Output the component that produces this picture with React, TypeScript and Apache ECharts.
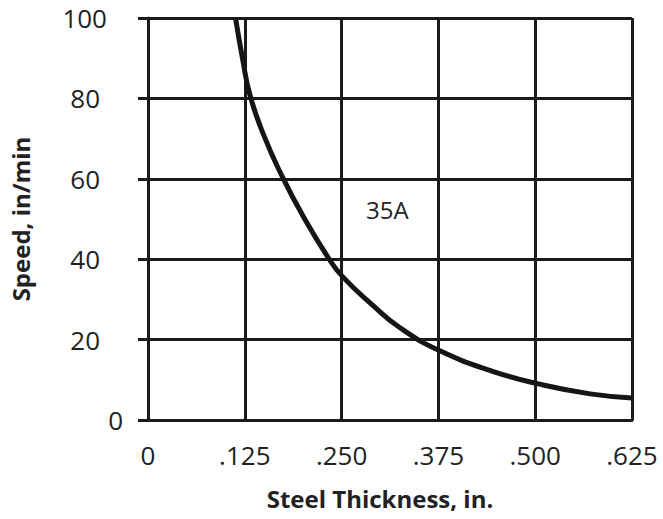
import React, { useEffect, useRef } from "react";
import * as echarts from "echarts";

const thickness = [0.113, 0.122, 0.132, 0.15, 0.173, 0.2, 0.233, 0.2515, 0.29, 0.325, 0.377, 0.447, 0.504, 0.571, 0.625];
const speed = [100, 90, 80.6, 70.6, 60.7, 50.8, 40.3, 35.6, 28.6, 23, 17.2, 12, 9, 6.5, 5.5];
const curveLabel = "35A";
const xTitle = "Steel Thickness, in.";
const yTitle = "Speed, in/min";

export default function App() {
  const ref = useRef<HTMLDivElement>(null);
  useEffect(() => {
    if (!ref.current) return;
    const chart = echarts.init(ref.current, null, { renderer: "svg" });
    const ink = "#1b1b1b";
    chart.setOption({
      animation: false,
      backgroundColor: "#ffffff",
      grid: { left: 145, right: 31, top: 18, bottom: 99, containLabel: false },
      xAxis: {
        type: "value",
        min: 0,
        max: 0.625,
        interval: 0.125,
        name: xTitle,
        nameLocation: "middle",
        nameGap: 66,
        nameTextStyle: { fontFamily: "Open Sans", fontWeight: "bold", fontSize: 24, color: "#222", padding: [0, 20, 0, 0] },
        axisLine: { show: true, lineStyle: { color: ink, width: 3 } },
        axisTick: { show: false },
        splitLine: { show: true, lineStyle: { color: ink, width: 3 } },
        axisLabel: {
          margin: 22,
          fontFamily: "Open Sans",
          fontSize: 26,
          color: "#222",
          formatter: (v: number) => (v === 0 ? "0" : v.toFixed(3).replace(/^0/, "")),
        },
      },
      yAxis: {
        type: "value",
        min: 0,
        max: 100,
        interval: 20,
        name: yTitle,
        nameLocation: "middle",
        nameGap: 116,
        nameRotate: 90,
        nameTextStyle: { fontFamily: "Open Sans", fontWeight: "bold", fontSize: 24, color: "#222" },
        axisLine: { show: true, lineStyle: { color: ink, width: 3 } },
        axisTick: { show: true, length: 10, lineStyle: { color: ink, width: 3 } },
        splitLine: { show: true, lineStyle: { color: ink, width: 3 } },
        axisLabel: {
          margin: 25,
          align: "right",
          fontFamily: "Open Sans",
          fontSize: 26,
          color: "#222",
          formatter: (v: number) => (v === 0 ? "{z|0}" : v === 100 ? "{h|100}" : "{n|" + v + "}"),
          rich: {
            z: { fontFamily: "Open Sans", fontSize: 26, color: "#222" },
            h: { fontFamily: "Open Sans", fontSize: 26, color: "#222", padding: [0, 16, 0, 0] },
            n: { fontFamily: "Open Sans", fontSize: 26, color: "#222", padding: [0, 23, 0, 0] },
          },
        },
      },
      graphic: [
        {
          type: "text",
          left: 366,
          top: 197,
          style: { text: curveLabel, fontFamily: "Open Sans", fontSize: 24, fill: "#222" },
        },
      ],
      series: [
        {
          type: "line",
          data: thickness.map((t, i) => [t, speed[i]]),
          smooth: 0.5,
          showSymbol: false,
          symbol: "none",
          lineStyle: { color: "#151515", width: 5 },
          clip: true,
        },
      ],
    });
    return () => chart.dispose();
  }, []);
  return <div ref={ref} style={{ position: "absolute", left: 0, top: 0, width: 663, height: 519 }} />;
}
